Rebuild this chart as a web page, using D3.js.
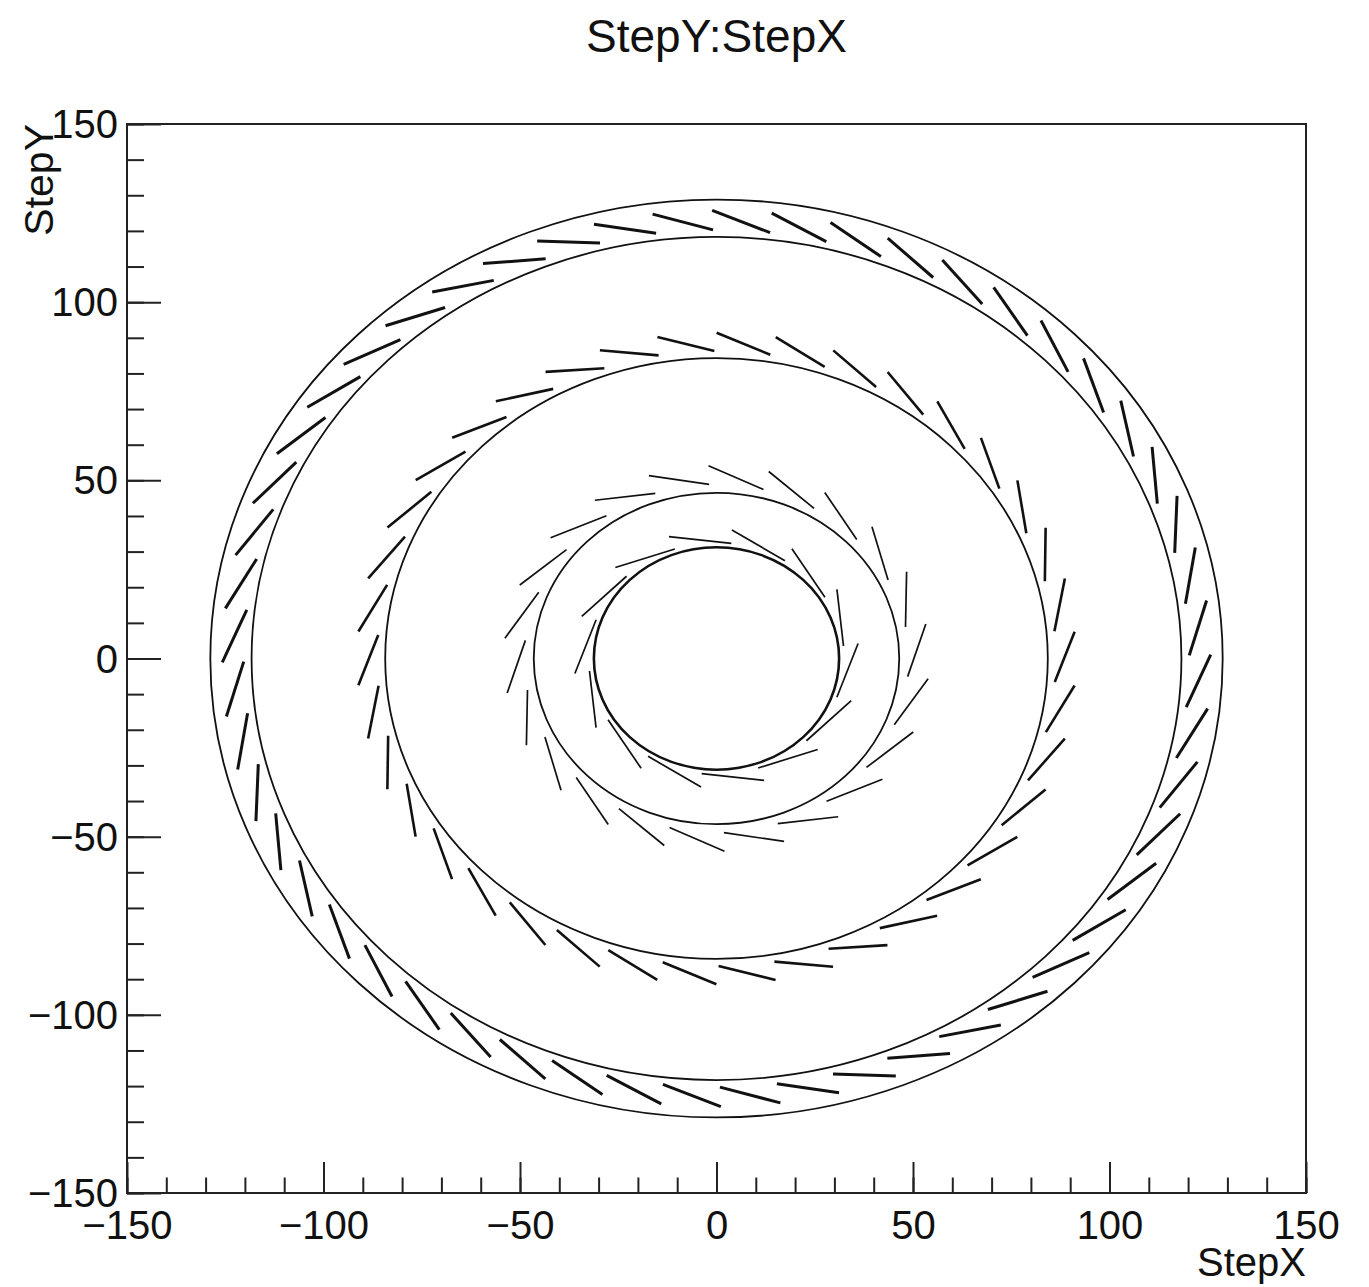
<!DOCTYPE html>
<html>
<head>
<meta charset="utf-8">
<script src="https://cdn.jsdelivr.net/npm/d3@7"></script>
<style>
  body { margin: 0; background: #fff; }
  text { font-family: "Liberation Sans", Arial, Helvetica, sans-serif; fill: #111; }
</style>
</head>
<body>
<script>
// axis ticks
var majorTicks = [-150, -100, -50, 0, 50, 100, 150];
var minorTicks = d3.range(-150, 151, 10);

// support tubes / beam pipe drawn as full circles (radius in StepX/StepY units)
var tubeRadii = [31.2, 46.5, 84.3, 118.3, 128.8];
var tubeWidth = [2.6, 1.8, 1.8, 1.8, 1.8];

// stave layers
var layerNames  = ["IBL", "B-layer", "Layer1", "Layer2"];
var layerRadius = [33.5, 51, 88.6, 122.8];
var layerStaves = [14, 22, 38, 52];
var layerTilt   = [14, 20, 20, 20];     // degrees, clockwise from tangent
var layerPhase  = [20, 2.6, 0.3, 4.0];  // angle of first stave centre, degrees
var layerLength = [16, 15.5, 15, 16];
var layerStroke = [1.7, 1.7, 2.6, 3];

var W = 1369, H = 1287;
var frame = {left: 127, right: 1306, top: 124, bottom: 1193};

var svg = d3.select("body").append("svg")
    .attr('width', W)
    .attr('height', H);

var x = d3.scaleLinear().domain([-150, 150]).range([frame.left, frame.right]),
    y = d3.scaleLinear().domain([-150, 150]).range([frame.bottom, frame.top]);

// build stave segments from the layer tables
var staves = [];
for (var i = 0; i < layerNames.length; i++) {
    var n = layerStaves[i];
    for (var k = 0; k < n; k++) {
        var phi = (layerPhase[i] + k * 360 / n) * Math.PI / 180;
        var th = phi + (90 - layerTilt[i]) * Math.PI / 180;
        var cx = layerRadius[i] * Math.cos(phi), cy = layerRadius[i] * Math.sin(phi);
        var h = layerLength[i] / 2;
        staves.push({layer: i,
            x1: cx - h * Math.cos(th), y1: cy - h * Math.sin(th),
            x2: cx + h * Math.cos(th), y2: cy + h * Math.sin(th)});
    }
}

var plot = svg.append("g");

// tubes
plot.selectAll("ellipse.tube")
    .data(tubeRadii)
    .enter()
    .append("ellipse")
    .attr('class', "tube")
    .attr('cx', x(0))
    .attr('cy', y(0))
    .attr('rx', function(d){ return x(d) - x(0); })
    .attr('ry', function(d){ return y(0) - y(d); })
    .style('fill', "none")
    .style('stroke', "#111")
    .style('stroke-width', function(d,i){ return tubeWidth[i] + "px"; });

// staves
plot.selectAll("line.stave")
    .data(staves)
    .enter()
    .append("line")
    .attr('class', "stave")
    .attr('x1', function(d){ return x(d.x1); })
    .attr('y1', function(d){ return y(d.y1); })
    .attr('x2', function(d){ return x(d.x2); })
    .attr('y2', function(d){ return y(d.y2); })
    .style('stroke', "#111")
    .style('stroke-width', function(d){ return layerStroke[d.layer] + "px"; });

// axes, ROOT style: ticks pointing inward, only bottom and left
var fmt = d3.format("d");
svg.append("g")
    .attr('transform', "translate(0," + frame.bottom + ")")
    .call(d3.axisBottom(x).tickValues(minorTicks).tickSize(-15.5).tickFormat(""))
    .call(function(g){ g.select(".domain").remove(); });
svg.append("g")
    .attr('class', "xmajor")
    .attr('transform', "translate(0," + frame.bottom + ")")
    .call(d3.axisBottom(x).tickValues(majorTicks).tickSize(-31).tickPadding(18).tickFormat(fmt))
    .call(function(g){ g.select(".domain").remove(); });

svg.append("g")
    .attr('transform', "translate(" + frame.left + ",0)")
    .call(d3.axisLeft(y).tickValues(minorTicks).tickSize(-17).tickFormat(""))
    .call(function(g){ g.select(".domain").remove(); });
svg.append("g")
    .attr('class', "ymajor")
    .attr('transform', "translate(" + frame.left + ",0)")
    .call(d3.axisLeft(y).tickValues(majorTicks).tickSize(-34).tickPadding(9).tickFormat(fmt))
    .call(function(g){ g.select(".domain").remove(); });

svg.selectAll(".tick line")
    .style('stroke', "#222")
    .style('stroke-width', "2px");
svg.selectAll(".xmajor text, .ymajor text")
    .attr('font-family', null)
    .style('font-size', "40px")
    .style('fill', "#111");
svg.selectAll(".ymajor text").attr('dy', "0.34em");

// frame
svg.append("rect")
    .attr('x', frame.left)
    .attr('y', frame.top)
    .attr('width', frame.right - frame.left)
    .attr('height', frame.bottom - frame.top)
    .style('fill', "none")
    .style('stroke', "#222")
    .style('stroke-width', "2px");

// titles
svg.append("text")
    .text("StepY:StepX")
    .attr('x', x(0))
    .attr('y', 52)
    .attr('text-anchor', "middle")
    .style('font-size', "46px");

svg.append("text")
    .text("StepX")
    .attr('x', frame.right)
    .attr('y', 1276)
    .attr('text-anchor', "end")
    .style('font-size', "40px");

svg.append("text")
    .text("StepY")
    .attr('transform', "translate(53," + frame.top + ") rotate(-90)")
    .attr('text-anchor', "end")
    .style('font-size', "41px");
</script>
</body>
</html>
